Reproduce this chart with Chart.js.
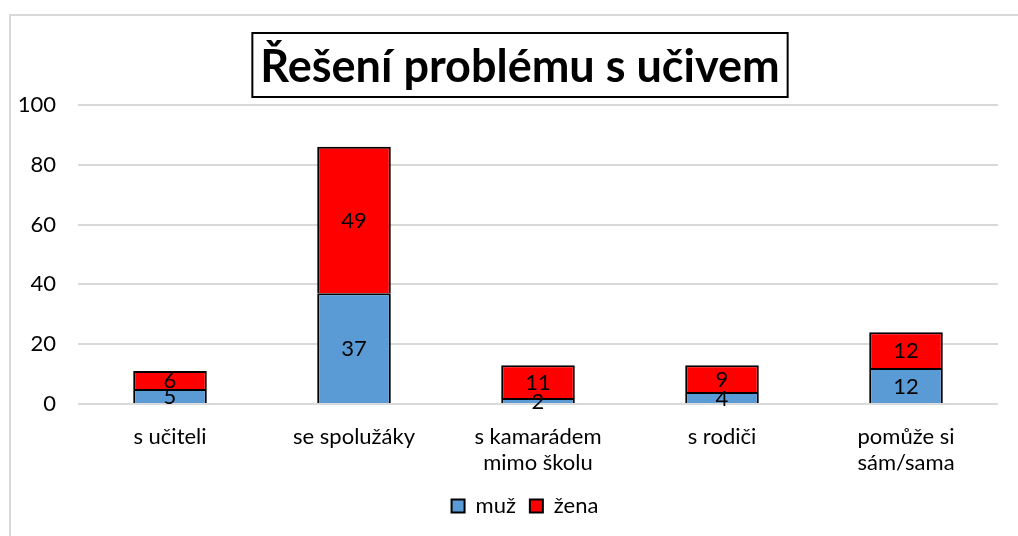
<!DOCTYPE html>
<html>
<head>
<meta charset="utf-8">
<script src="https://cdn.jsdelivr.net/npm/chart.js@4/dist/chart.umd.min.js"></script>
<style>
  html, body { margin: 0; padding: 0; background: #fff; }
  #wrap { position: relative; width: 1018px; height: 536px; overflow: hidden; }
  #frame { position: absolute; left: 9px; top: 14px; width: 1020px; height: 540px;
           border-left: 2px solid #d9d9d9; border-top: 2px solid #d9d9d9; }
  canvas { position: absolute; left: 0; top: 0; }
</style>
</head>
<body>
<div id="wrap">
  <div id="frame"></div>
  <canvas id="graf" width="1018" height="536"></canvas>
</div>
<script>
// data z grafu
const kategorie = ['s učiteli', 'se spolužáky', ['s kamarádem', 'mimo školu'], 's rodiči', ['pomůže si', 'sám/sama']];
const muz = [5, 37, 2, 4, 12];
const zena = [6, 49, 11, 9, 12];
const yTicks = [0, 20, 40, 60, 80, 100];
const nadpis = 'Řešení problému s učivem';

const FONT = 'Lato, "Open Sans", sans-serif';
const FS = 22;

// popisky hodnot uprostred segmentu
const hodnotyPlugin = {
  id: 'hodnoty',
  afterDatasetsDraw(chart) {
    const ctx = chart.ctx;
    ctx.save();
    ctx.font = FS + 'px ' + FONT;
    ctx.fillStyle = '#000';
    ctx.textAlign = 'center';
    ctx.textBaseline = 'middle';
    chart.data.datasets.forEach((ds, i) => {
      chart.getDatasetMeta(i).data.forEach((bar, j) => {
        const p = bar.getProps(['x', 'y', 'base'], true);
        ctx.fillText(String(ds.data[j]), p.x, (p.y + p.base) / 2 + 1);
      });
    });
    ctx.restore();
  }
};

// nadpis v rámečku
const nadpisPlugin = {
  id: 'nadpis',
  afterLayout(chart) {
    // legenda je v originale trochu posunuta doprava
    const lg = chart.legend;
    if (lg) { lg.left += 26; lg.right += 26; lg.adjustHitBoxes(); }
  },
  afterDraw(chart) {
    const ctx = chart.ctx;
    ctx.save();
    ctx.font = 'bold 45px ' + FONT;
    const w = ctx.measureText(nadpis).width;
    const cx = 520, cy = 65;
    const bw = w + 16, bh = 64;
    ctx.fillStyle = '#fff';
    ctx.fillRect(cx - bw / 2, cy - bh / 2, bw, bh);
    ctx.strokeStyle = '#000';
    ctx.lineWidth = 2;
    ctx.strokeRect(cx - bw / 2, cy - bh / 2, bw, bh);
    ctx.fillStyle = '#000';
    ctx.textAlign = 'center';
    ctx.textBaseline = 'middle';
    ctx.fillText(nadpis, cx, cy + 2);
    ctx.restore();
  }
};

new Chart(document.getElementById('graf'), {
  type: 'bar',
  data: {
    labels: kategorie,
    datasets: [
      { label: 'muž', data: muz, backgroundColor: '#5b9bd5', borderColor: '#000', borderWidth: 2 },
      { label: 'žena', data: zena, backgroundColor: '#ff0000', borderColor: '#000', borderWidth: 2 }
    ]
  },
  options: {
    responsive: false,
    animation: false,
    layout: { padding: { top: 105, right: 20, left: 0, bottom: 9 } },
    datasets: { bar: { categoryPercentage: 1, barPercentage: 0.4 } },
    plugins: {
      title: { display: false },
      tooltip: { enabled: false },
      legend: {
        position: 'bottom',
        labels: {
          font: { family: FONT, size: FS },
          color: '#000',
          boxWidth: 13,
          boxHeight: 13,
          padding: 14
        }
      }
    },
    scales: {
      x: {
        stacked: true,
        grid: { display: false },
        border: { display: false },
        ticks: { font: { family: FONT, size: FS, lineHeight: 1.18 }, color: '#000', padding: 12, maxRotation: 0, autoSkip: false },
        afterFit(s) { s.height = 77; }
      },
      y: {
        stacked: true,
        min: 0,
        max: 100,
        afterBuildTicks(s) { s.ticks = yTicks.map(v => ({ value: v })); },
        grid: { color: '#d9d9d9', lineWidth: 2, drawTicks: false },
        border: { display: false },
        ticks: { font: { family: FONT, size: FS }, color: '#000', padding: 22 },
        afterFit(s) { s.width = 78; }
      }
    }
  },
  plugins: [hodnotyPlugin, nadpisPlugin]
});
</script>
</body>
</html>
